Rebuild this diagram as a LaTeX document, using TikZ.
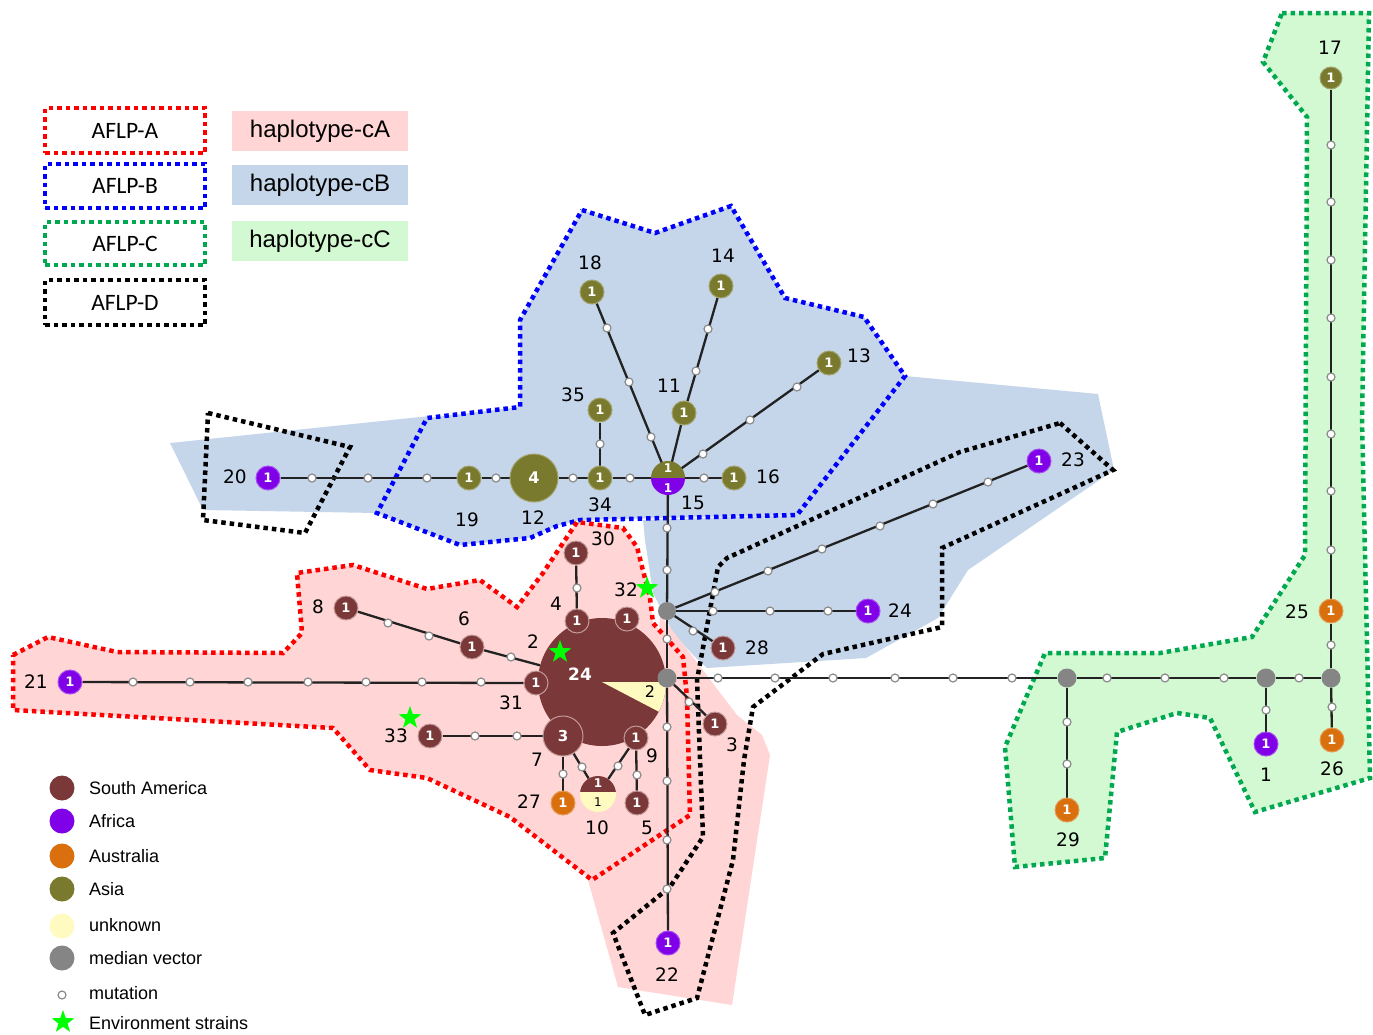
\documentclass[tikz,border=0pt]{standalone}
\usepackage{fontspec}
\setmainfont{DejaVu Sans}
\newfontfamily\numf{DejaVu Sans}
\newfontfamily\calf{Carlito}
\newfontfamily\arf{Liberation Sans}
\usetikzlibrary{shapes.geometric}
\definecolor{pinkf}{HTML}{FFD5D5}
\definecolor{bluef}{HTML}{C5D6EA}
\definecolor{greenf}{HTML}{D3F9D3}
\definecolor{aflpred}{HTML}{FF0000}
\definecolor{aflpblue}{HTML}{0000FF}
\definecolor{aflpgreen}{HTML}{00A84F}
\definecolor{sa}{HTML}{7A3838}
\definecolor{saedge}{HTML}{C49A9A}
\definecolor{afr}{HTML}{8000E8}
\definecolor{aus}{HTML}{D9700D}
\definecolor{asia}{HTML}{7A7A2E}
\definecolor{unk}{HTML}{FFFAC0}
\definecolor{medgray}{HTML}{858585}
\definecolor{mutgray}{HTML}{8A8A8A}
\definecolor{linkc}{HTML}{222222}
\definecolor{envgreen}{HTML}{00FF00}
\pgfdeclarelayer{fills}
\pgfdeclarelayer{outlines}
\pgfdeclarelayer{edges}
\pgfsetlayers{fills,outlines,edges,main}
\tikzset{
 hap/.style={circle,inner sep=0pt,minimum size=24pt,text=white,font=\numf\bfseries\fontsize{13}{13}\selectfont,line width=1pt},
 hsa/.style={hap,fill=sa,draw=saedge},
 hafr/.style={hap,fill=afr,draw=afr!70!white},
 haus/.style={hap,fill=aus,draw=aus!70!white},
 hasia/.style={hap,fill=asia,draw=asia!70!white},
 lab/.style={inner sep=0pt,font=\numf\fontsize{18.5}{18.5}\selectfont},
 mut/.style={circle,inner sep=0pt,minimum size=8pt,fill=white,draw=mutgray,line width=1.2pt},
 medv/.style={circle,inner sep=0pt,minimum size=19pt,fill=medgray},
 link/.style={line width=2.3pt,draw=linkc},
 aflp/.style={line width=4.5pt,dash pattern=on 4.5pt off 4pt},
 env/.style={star,star points=5,star point ratio=2.5,fill=envgreen,inner sep=0pt,minimum size=24pt},
 keytxt/.style={anchor=west,inner sep=0pt,font=\arf\fontsize{18}{18}\selectfont},
 keydot/.style={circle,inner sep=0pt,minimum size=25pt},
 keybox/.style={aflp,minimum width=160pt,font=\calf\fontsize{23.5}{23.5}\selectfont},
 hapbox/.style={minimum width=176pt,minimum height=40pt,font=\arf\fontsize{24}{24}\selectfont},
}
\begin{document}
\begin{tikzpicture}[x=1pt,y=-1pt]
\useasboundingbox (0,0) rectangle (1373,1034);
% ---------- background regions ----------
\begin{pgfonlayer}{fills}
\fill[white] (0,0) rectangle (1373,1034);
% haplotype-cB
\fill[bluef] (170,443) -- (430,416) -- (440,505) -- (377,513) -- (203,510) -- cycle;
\fill[bluef] (582,210) -- (655,233) -- (731,206) -- (785,298) -- (864,317) -- (905,376) -- (797,515) -- (580,520) -- (557,526) -- (530,538) -- (460,545) -- (377,513) -- (427,418) -- (520,407) -- (520,320) -- cycle;
\fill[bluef] (797,515) -- (905,376) -- (1098,394) -- (1114,470) -- (968,570) -- (938,618) -- (866,658) -- (707,668) -- (695,657) -- (673,633) -- (653,593) -- (645,540) -- (643,520) -- cycle;
% haplotype-cA
\fill[pinkf] (13,655) -- (48,637) -- (117,652) -- (283,653) -- (302,633) -- (297,573) -- (353,565) -- (427,589) -- (480,580) -- (517,607) -- (543,573) -- (577,522) -- (623,528) -- (637,547) -- (650,598) -- (653,623) -- (683,657) -- (687,697) -- (690,815) -- (592,880) -- (510,817) -- (427,778) -- (370,770) -- (333,728) -- (13,710) -- cycle;
\fill[pinkf] (660,615) -- (680,640) -- (737,715) -- (762,735) -- (770,755) -- (732,1005) -- (618,987) -- (588,880) -- (650,800) -- cycle;
% haplotype-cC
\fill[greenf] (1282,13) -- (1369,13) -- (1362,420) -- (1370,778) -- (1255,812) -- (1210,718) -- (1177,713) -- (1117,732) -- (1105,858) -- (1015,867) -- (1005,747) -- (1045,653) -- (1160,653) -- (1252,637) -- (1305,555) -- (1307,117) -- (1263,62) -- cycle;
\end{pgfonlayer}
\begin{pgfonlayer}{outlines}
\draw[aflp,aflpblue] (582,210) -- (655,233) -- (731,206) -- (785,298) -- (864,317) -- (905,376) -- (797,515) -- (580,520) -- (557,526) -- (530,538) -- (460,545) -- (377,513) -- (427,418) -- (520,407) -- (520,320) -- cycle;
\draw[aflp,aflpred] (13,655) -- (48,637) -- (117,652) -- (283,653) -- (302,633) -- (297,573) -- (353,565) -- (427,589) -- (480,580) -- (517,607) -- (543,573) -- (577,522) -- (623,528) -- (637,547) -- (650,598) -- (653,623) -- (683,657) -- (687,697) -- (690,815) -- (592,880) -- (510,817) -- (427,778) -- (370,770) -- (333,728) -- (13,710) -- cycle;
\draw[aflp,aflpgreen] (1282,13) -- (1369,13) -- (1362,420) -- (1370,778) -- (1255,812) -- (1210,718) -- (1177,713) -- (1117,732) -- (1105,858) -- (1015,867) -- (1005,747) -- (1045,653) -- (1160,653) -- (1252,637) -- (1305,555) -- (1307,117) -- (1263,62) -- cycle;
\draw[aflp,black] (208,413) -- (350,447) -- (305,533) -- (203,520) -- cycle;
\draw[aflp,black] (1060,423) -- (1113,470) -- (942,548) -- (942,627) -- (823,654) -- (753,707) -- (744,760) -- (733,860) -- (697,998) -- (645,1015) -- (613,933) -- (670,887) -- (703,837) -- (697,680) -- (718,567) -- (727,558) -- (960,452) -- cycle;
\end{pgfonlayer}
% ---------- legend ----------
\node[keybox,draw=aflpred,minimum height=45pt] (kA) at (125,130.5) {AFLP-A};
\node[keybox,draw=aflpblue,minimum height=44pt] (kB) at (125,186) {AFLP-B};
\node[keybox,draw=aflpgreen,minimum height=43pt] (kC) at (125,243.5) {AFLP-C};
\node[keybox,draw=black,minimum height=45pt] (kD) at (125,302.5) {AFLP-D};
\node[hapbox,fill=pinkf] (hA) at (320,131) {haplotype-cA};
\node[hapbox,fill=bluef] (hB) at (320,185) {haplotype-cB};
\node[hapbox,fill=greenf] (hC) at (320,241) {haplotype-cC};
\node[keydot,fill=sa] (kd1) at (62,788) {};
\node[keydot,fill=afr] (kd2) at (62,821) {};
\node[keydot,fill=aus] (kd3) at (62,856) {};
\node[keydot,fill=asia] (kd4) at (62,889) {};
\node[keydot,fill=unk] (kd5) at (62,926) {};
\node[keydot,fill=medgray] (kd6) at (62,958) {};
\node[mut] (kd7) at (62,995) {};
\node[env] (kd8) at (63,1022) {};
\node[keytxt] (kt1) at (89,788) {South America};
\node[keytxt] (kt2) at (89,821) {Africa};
\node[keytxt] (kt3) at (89,856) {Australia};
\node[keytxt] (kt4) at (89,889) {Asia};
\node[keytxt] (kt5) at (89,925) {unknown};
\node[keytxt] (kt6) at (89,958) {median vector};
\node[keytxt] (kt7) at (89,993) {mutation};
\node[keytxt] (kt8) at (89,1023) {Environment strains};
% ---------- haplotype nodes ----------
\node[hafr] (n20) at (268,478) {1};
\node[hasia] (n19) at (469,478) {1};
\node[hasia,minimum size=48pt,font=\numf\bfseries\fontsize{16}{16}\selectfont] (n12) at (534,478) {4};
\node[hasia] (n34) at (600,478) {1};
\node[hasia] (n35) at (600,410) {1};
\node[hasia] (n16) at (734,478) {1};
\node[hasia] (n18) at (592,292) {1};
\node[hasia] (n14) at (721,286) {1};
\node[hasia] (n11) at (684,413) {1};
\node[hasia] (n13) at (829,363) {1};
\node[hafr] (n23) at (1039,461) {1};
\node[hafr] (n24) at (868,611) {1};
\node[hsa] (n28) at (723,648) {1};
\node[hsa] (n3) at (715,724) {1};
\node[hafr] (n22) at (668,943) {1};
% big haplotype 2
\node[circle,inner sep=0pt,minimum size=128pt,fill=sa] (n2) at (602,682) {};
\begin{scope}
\clip (602,682) circle[radius=64pt];
\fill[unk] (602,682) -- (690,682) -- (690,728) -- cycle;
\end{scope}
\node[inner sep=0pt,text=white,font=\numf\bfseries\fontsize{17}{17}\selectfont] (t2a) at (580,674) {24};
\node[inner sep=0pt,font=\numf\fontsize{16}{16}\selectfont] (t2b) at (650,692) {2};
\node[hsa] (n4) at (577,621) {1};
\node[hsa] (n32) at (627,619) {1};
\node[hsa] (n30) at (576,553) {1};
\node[hsa] (n31) at (536,683) {1};
\node[hsa] (n6) at (472,647) {1};
\node[hsa] (n8) at (346,608) {1};
\node[hafr] (n21) at (70,682) {1};
\node[hsa,minimum size=40pt,font=\numf\bfseries\fontsize{15}{15}\selectfont] (n7) at (563,736) {3};
\node[hsa] (n33) at (430,736) {1};
\node[haus] (n27) at (563,803) {1};
\node[hsa] (n9) at (636,738) {1};
\node[hsa] (n5) at (637,803) {1};
\node[haus] (n29) at (1067,810) {1};
\node[hafr] (n1) at (1266,744) {1};
\node[haus] (n26) at (1332,740) {1};
\node[haus] (n25) at (1331,611) {1};
\node[hasia,minimum size=22pt] (n17) at (1331,78) {1};
% haplotype 15 (Asia / Africa)
\node[circle,inner sep=0pt,minimum size=34pt] (n15) at (668,478) {};
\begin{scope}
\clip (668,478) circle[radius=17pt];
\fill[asia] (650,459) rectangle (687,478);
\fill[afr] (650,478) rectangle (687,497);
\end{scope}
\node[inner sep=0pt,text=white,font=\numf\bfseries\fontsize{12}{12}\selectfont] (t15a) at (668,468) {1};
\node[inner sep=0pt,text=white,font=\numf\bfseries\fontsize{12}{12}\selectfont] (t15b) at (668,488) {1};
% haplotype 10 (South America / unknown)
\node[circle,inner sep=0pt,minimum size=36pt] (n10) at (598,794) {};
\begin{scope}
\clip (598,794) circle[radius=18pt];
\fill[sa] (579,775) rectangle (617,792);
\fill[unk] (579,792) rectangle (617,813);
\end{scope}
\node[inner sep=0pt,text=white,font=\numf\bfseries\fontsize{12}{12}\selectfont] (t10a) at (598,783) {1};
\node[inner sep=0pt,font=\numf\fontsize{12}{12}\selectfont] (t10b) at (598,802) {1};
% median vectors
\node[medv,minimum size=18pt] (mv1) at (667,611) {};
\node[medv] (mv2) at (667,678) {};
\node[medv] (mvA) at (1067,678) {};
\node[medv] (mvB) at (1266,678) {};
\node[medv] (mvC) at (1331,678) {};
% mutations
\foreach \x/\y [count=\i] in {312/478,368/478,427/478,496/478,573/478,600/444,630/478,704/478,
 607/328,629/382,651/437,708/329,696/371,703/454,750/420,797/387,667/528,667/570,667/639,
 715/592,768/571,822/549,880/526,933/504,988/482,713/611,770/611,828/611,693/631,689/702,
 667/727,667/781,667/840,667/889,718/678,775/678,833/678,895/678,953/678,1012/678,
 1107/678,1165/678,1224/678,1299/678,1067/722,1067/764,1266/710,1332/707,1331/645,
 1331/145,1331/202,1331/260,1331/318,1331/377,1331/434,1331/491,1331/550,
 577/588,511/657,388/623,429/636,133/682,190/682,248/682,308/682,366/682,422/682,481/682,
 475/736,517/736,563/774,582/767,618/766,637/775}
 \node[mut] (m\i) at (\x,\y) {};
% environment strains
\node[env] (e1) at (647,588) {};
\node[env] (e2) at (560,652) {};
\node[env] (e3) at (410,718) {};
% labels
\foreach \nm/\x/\y/\t in {l20/235/477/20,l19/467/520/19,l12/533/518/12,l34/600/505/34,l35/573/395/35,
 l15/693/503/15,l16/768/477/16,l18/590/263/18,l14/723/256/14,l11/669/386/11,l13/859/356/13,
 l23/1073/460/23,l24/900/611/24,l28/757/648/28,l3/732/745/3,l22/667/975/22,l2/533/642/2,
 l4/556/604/4,l32/626/590/32,l30/603/539/30,l31/511/703/31,l6/464/619/6,l8/318/607/8,
 l21/36/682/21,l7/537/760/7,l33/396/736/33,l27/529/802/27,l10/597/828/10,l9/652/756/9,
 l5/647/828/5,l29/1068/840/29,l1/1266/775/1,l26/1332/769/26,l25/1297/612/25,l17/1330/48/17}
 \node[lab] (\nm) at (\x,\y) {\t};
% ---------- connectors ----------
\begin{pgfonlayer}{edges}
\draw[link] (n20) -- (n19);
\draw[link] (n19) -- (n12);
\draw[link] (n12) -- (n34);
\draw[link] (n34) -- (n35);
\draw[link] (n34) -- (n15);
\draw[link] (n15) -- (n16);
\draw[link] (n15.center) -- (n18);
\draw[link] (n15.center) -- (n11);
\draw[link] (n11) -- (n14);
\draw[link] (n15.center) -- (n13);
\draw[link] (n15) -- (mv1);
\draw[link] (mv1) -- (n23);
\draw[link] (mv1) -- (n24);
\draw[link] (mv1) -- (n28);
\draw[link] (mv1) -- (mv2);
\draw[link] (mv2) -- (n3);
\draw[link] (mv2) -- (n22);
\draw[link] (mv2) -- (mvA);
\draw[link] (mvA) -- (mvB);
\draw[link] (mvB) -- (mvC);
\draw[link] (mvA) -- (n29);
\draw[link] (mvB) -- (n1);
\draw[link] (mvC) -- (n26);
\draw[link] (mvC) -- (n25);
\draw[link] (n25) -- (n17);
\draw[link] (n30) -- (n4);
\draw[link] (n8) -- (n6);
\draw[link] (n6) -- (n2);
\draw[link] (n21) -- (n31);
\draw[link] (n33) -- (n7);
\draw[link] (n7) -- (n27);
\draw[link] (n7) -- (n10);
\draw[link] (n9) -- (n10);
\draw[link] (n9) -- (n5);
\end{pgfonlayer}
\end{tikzpicture}
\end{document}
